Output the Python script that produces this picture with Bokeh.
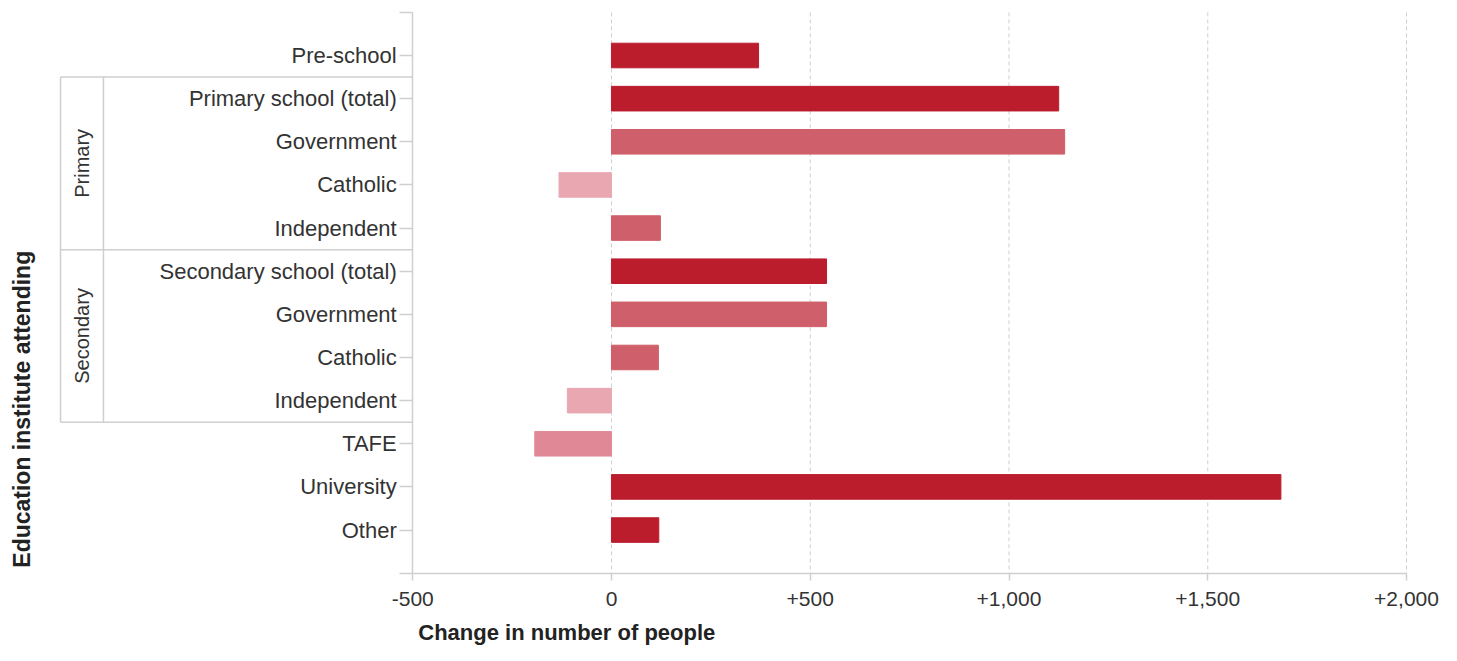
import math
from bokeh.plotting import figure
from bokeh.models import (ColumnDataSource, Range1d, LinearAxis, FixedTicker)
from bokeh.core.properties import value
from bokeh.embed import file_html
from bokeh.resources import INLINE

# ---------------- data ----------------
categories = ["Pre-school", "Primary school (total)", "Government", "Catholic", "Independent",
              "Secondary school (total)", "Government", "Catholic", "Independent",
              "TAFE", "University", "Other"]
changes = [370, 1125, 1140, -132, 123, 541, 541, 118, -111, -193, 1684, 119]
bar_colors = ["#BB1D2D", "#BB1D2D", "#CF5F6A", "#E9A7B2", "#CF5F6A",
              "#BB1D2D", "#CF5F6A", "#CF5F6A", "#E9A7B2", "#E18897", "#BB1D2D", "#BB1D2D"]
groups = ["Primary", "Secondary"]
group_first = [1, 5]      # first row index of each group
group_last = [4, 8]       # last row index of each group
x_ticks = [-500, 0, 500, 1000, 1500, 2000]
x_tick_labels = ["-500", "0", "+500", "+1,000", "+1,500", "+2,000"]
x_title = "Change in number of people"
y_title = "Education institute attending"

FONT = "Liberation Sans"
TXT = "#333333"
GRID = "#cfcfcf"

rows = list(range(len(categories)))
src = ColumnDataSource(dict(y=rows, right=changes, color=bar_colors))

p = figure(width=1441, height=645, output_backend="svg", toolbar_location=None, tools="",
           x_range=Range1d(-1537, 2088), y_range=Range1d(13.676, -1.275),
           x_axis_location=None, y_axis_location=None,
           min_border=0, min_border_left=0, min_border_right=0,
           min_border_top=0, min_border_bottom=0)
p.outline_line_color = None
p.xgrid.visible = False
p.ygrid.visible = False
p.background_fill_color = "white"
p.border_fill_color = "white"

x_min, x_max = x_ticks[0], x_ticks[-1]
y_top, y_bot = -1, len(categories)

# dashed vertical gridlines
gx = x_ticks[1:]
p.segment(x0=gx, y0=[y_top] * len(gx), x1=gx, y1=[y_bot] * len(gx),
          line_color=GRID, line_width=1, line_dash="4 3")

# bars
p.hbar(y="y", left=0, right="right", height=0.57, color="color", source=src)

# y axis placed at x=-500
yax = LinearAxis(fixed_location=x_min)
yax.ticker = FixedTicker(ticks=[y_top] + rows + [y_bot])
ov = {r: c for r, c in zip(rows, categories)}
ov[y_top] = ""
ov[y_bot] = ""
yax.major_label_overrides = ov
yax.bounds = (y_top, y_bot)
yax.axis_line_color = GRID
yax.axis_line_width = 1.5
yax.major_tick_line_color = GRID
yax.major_tick_line_width = 1.5
yax.major_tick_out = 13
yax.major_tick_in = 0
yax.minor_tick_line_color = None
yax.major_label_standoff = 3
yax.major_label_text_font = FONT
yax.major_label_text_font_size = "22px"
yax.major_label_text_color = TXT
p.add_layout(yax, "left")

# x axis placed at bottom row boundary
xax = LinearAxis(fixed_location=y_bot)
xax.ticker = FixedTicker(ticks=x_ticks)
xax.major_label_overrides = {t: l for t, l in zip(x_ticks, x_tick_labels)}
xax.bounds = (x_min, x_max)
xax.axis_line_color = GRID
xax.axis_line_width = 1.5
xax.major_tick_line_color = GRID
xax.major_tick_line_width = 1.5
xax.major_tick_out = 7
xax.major_tick_in = 0
xax.minor_tick_line_color = None
xax.major_label_standoff = 12
xax.major_label_text_font = FONT
xax.major_label_text_font_size = "21px"
xax.major_label_text_color = TXT
p.add_layout(xax, "below")

# group brackets
bx_outer = -1386
bx_inner = -1278
hy = [g - 0.5 for g in group_first] + [group_last[-1] + 0.5]
p.segment(x0=[bx_outer] * len(hy), y0=hy, x1=[x_min] * len(hy), y1=hy,
          line_color=GRID, line_width=1.5)
p.segment(x0=[bx_outer, bx_inner], y0=[hy[0], hy[0]], x1=[bx_outer, bx_inner], y1=[hy[-1], hy[-1]],
          line_color=GRID, line_width=1.5)
gy = [(a + b) / 2 for a, b in zip(group_first, group_last)]
p.text(x=[(bx_outer + bx_inner) / 2] * len(groups), y=gy, text=groups, angle=math.pi / 2,
       text_align="center", text_baseline="middle", text_color=TXT,
       text_font=value(FONT), text_font_size=value("20px"))

# axis titles
p.text(x=[-1482], y=[8.2], text=[y_title], angle=math.pi / 2,
       text_align="center", text_baseline="middle", text_color="#222222",
       text_font=value(FONT), text_font_size=value("23px"), text_font_style="bold")
p.text(x=[-486], y=[13.37], text=[x_title],
       text_align="left", text_baseline="middle", text_color="#222222",
       text_font=value(FONT), text_font_size=value("22px"), text_font_style="bold")

open("out.html", "w").write(file_html(p, INLINE))
